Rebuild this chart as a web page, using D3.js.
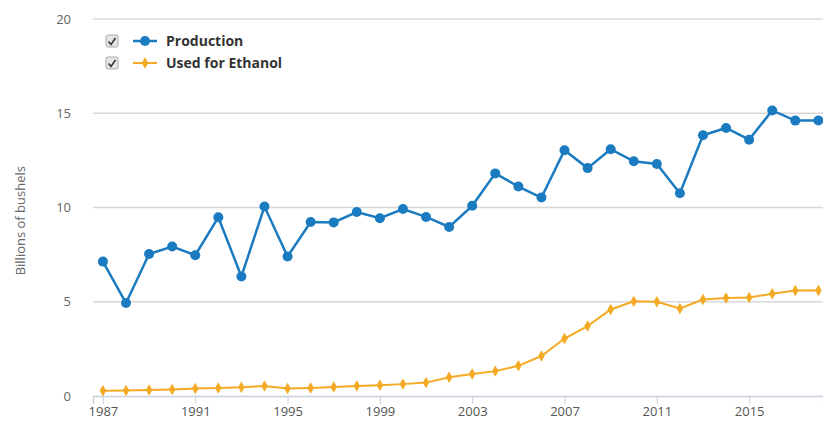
<!DOCTYPE html>
<html>
<head>
<meta charset="utf-8">
<script src="https://cdn.jsdelivr.net/npm/d3@7"></script>
<style>
  html, body { margin: 0; padding: 0; background: #fff; }
  #viz { width: 823px; height: 423px; overflow: hidden; }
  text { font-family: "Liberation Sans Narrow", "Arial Narrow", "Open Sans", sans-serif; }
</style>
</head>
<body>
<div id="viz"></div>
<script>
//Datos
const years = [1987, 1988, 1989, 1990, 1991, 1992, 1993, 1994, 1995, 1996, 1997, 1998, 1999, 2000, 2001, 2002,
    2003, 2004, 2005, 2006, 2007, 2008, 2009, 2010, 2011, 2012, 2013, 2014, 2015, 2016, 2017, 2018];
const production = [7.13, 4.93, 7.53, 7.93, 7.47, 9.48, 6.34, 10.05, 7.40, 9.23, 9.21, 9.76, 9.43, 9.92, 9.50, 8.97,
    10.09, 11.81, 11.11, 10.53, 13.04, 12.09, 13.09, 12.45, 12.31, 10.76, 13.83, 14.22, 13.60, 15.15, 14.61, 14.62];
const ethanol = [0.28, 0.29, 0.32, 0.35, 0.40, 0.43, 0.46, 0.53, 0.40, 0.43, 0.48, 0.53, 0.57, 0.63, 0.71, 0.99,
    1.17, 1.32, 1.60, 2.12, 3.05, 3.71, 4.59, 5.02, 5.00, 4.64, 5.12, 5.20, 5.22, 5.43, 5.60, 5.60];
const xTicks = [1987, 1991, 1995, 1999, 2003, 2007, 2011, 2015];
const yTicks = [0, 5, 10, 15, 20];
const seriesNames = ['Production', 'Used for Ethanol'];

//Colores fijos
const COLOR_BLUE = '#1b7bc0',
    COLOR_ORANGE = '#f4aa24',
    COLOR_GRID = '#d8d8d8',
    COLOR_TEXT = '#666666';

let margin = {top: 19, right: 0, bottom: 27, left: 93},
    width = 823 - margin.left - margin.right,
    height = 423 - margin.top - margin.bottom;

let svg = d3.select('#viz')
    .append('svg')
        .attr('width', 823)
        .attr('height', 423)
    .append('g')
        .attr('transform', 'translate(' + margin.left + ',' + margin.top + ')');

let x = d3.scaleLinear()
    .domain([1986.57, 2018.2])
    .range([0, width]);

let y = d3.scaleLinear()
    .domain([0, 20])
    .range([height, 0]);

//Rejilla
svg.append('g')
    .selectAll('line')
    .data(yTicks.filter(function(d) { return d > 0; }))
    .enter()
    .append('line')
    .attr('x1', 0)
    .attr('x2', width)
    .attr('y1', function(d) { return y(d); })
    .attr('y2', function(d) { return y(d); })
    .attr('stroke', COLOR_GRID)
    .attr('stroke-width', 1.3);

//Eje Y
let yAxis = svg.append('g')
    .call(d3.axisLeft(y).tickValues(yTicks).tickSize(0).tickPadding(22));
yAxis.select('.domain').remove();
yAxis.selectAll('text')
    .attr('fill', COLOR_TEXT)
    .style('font-size', '13px');

//Eje X
let xAxis = svg.append('g')
    .attr('transform', 'translate(0,' + height + ')')
    .call(d3.axisBottom(x).tickValues(xTicks).tickFormat(d3.format('d')).tickSize(8).tickPadding(3));
xAxis.select('.domain').attr('stroke', '#c8d0dc').attr('stroke-width', 1.3);
xAxis.selectAll('line').attr('stroke', '#c8d0dc');
xAxis.selectAll('text')
    .attr('fill', '#555')
    .style('font-size', '13px');

//Título eje
svg.append('text')
    .attr('transform', 'translate(' + (-68) + ',' + y(9.3) + ') rotate(-90)')
    .attr('text-anchor', 'middle')
    .attr('fill', COLOR_TEXT)
    .style('font-size', '13px')
    .text('Billions of bushels');

//Líneas
let line = function(values) {
    return d3.line()
        .x(function(d, i) { return x(years[i]); })
        .y(function(d) { return y(d); })(values);
};

svg.append('path')
    .attr('d', line(ethanol))
    .attr('fill', 'none')
    .attr('stroke', COLOR_ORANGE)
    .attr('stroke-width', 2);

svg.append('g')
    .selectAll('path')
    .data(ethanol)
    .enter()
    .append('path')
    .attr('d', d3.symbol().type(d3.symbolDiamond).size(38))
    .attr('transform', function(d, i) { return 'translate(' + x(years[i]) + ',' + y(d) + ')'; })
    .attr('fill', COLOR_ORANGE);

svg.append('path')
    .attr('d', line(production))
    .attr('fill', 'none')
    .attr('stroke', COLOR_BLUE)
    .attr('stroke-width', 2.5);

svg.append('g')
    .selectAll('circle')
    .data(production)
    .enter()
    .append('circle')
    .attr('cx', function(d, i) { return x(years[i]); })
    .attr('cy', function(d) { return y(d); })
    .attr('r', 5)
    .attr('fill', COLOR_BLUE);

//Leyenda
let legend = d3.select('#viz svg').append('g')
    .selectAll('g')
    .data(seriesNames)
    .enter()
    .append('g')
    .attr('transform', function(d, i) { return 'translate(106,' + (41 + i * 22) + ')'; });

legend.append('rect')
    .attr('x', 0).attr('y', -6)
    .attr('width', 12).attr('height', 12)
    .attr('rx', 2)
    .attr('fill', '#e6e6e6')
    .attr('stroke', '#aaa');

legend.append('path')
    .attr('d', 'M2.5,0.5 L5,3.5 L9.5,-3')
    .attr('fill', 'none')
    .attr('stroke', '#333')
    .attr('stroke-width', 1.6);

legend.append('line')
    .attr('x1', 27).attr('x2', 51)
    .attr('y1', 0).attr('y2', 0)
    .attr('stroke', function(d, i) { return i == 0 ? COLOR_BLUE : COLOR_ORANGE; })
    .attr('stroke-width', function(d, i) { return i == 0 ? 2.5 : 2; });

legend.append('path')
    .attr('d', function(d, i) {
        return i == 0 ? d3.symbol().type(d3.symbolCircle).size(80)() : d3.symbol().type(d3.symbolDiamond).size(38)();
    })
    .attr('transform', 'translate(39,0)')
    .attr('fill', function(d, i) { return i == 0 ? COLOR_BLUE : COLOR_ORANGE; });

legend.append('text')
    .attr('x', 60)
    .attr('y', 0)
    .attr('dy', '0.35em')
    .attr('fill', '#333')
    .style('font-family', '"Open Sans", sans-serif')
    .style('font-weight', '700')
    .style('font-size', '14px')
    .text(function(d) { return d; });
</script>
</body>
</html>
